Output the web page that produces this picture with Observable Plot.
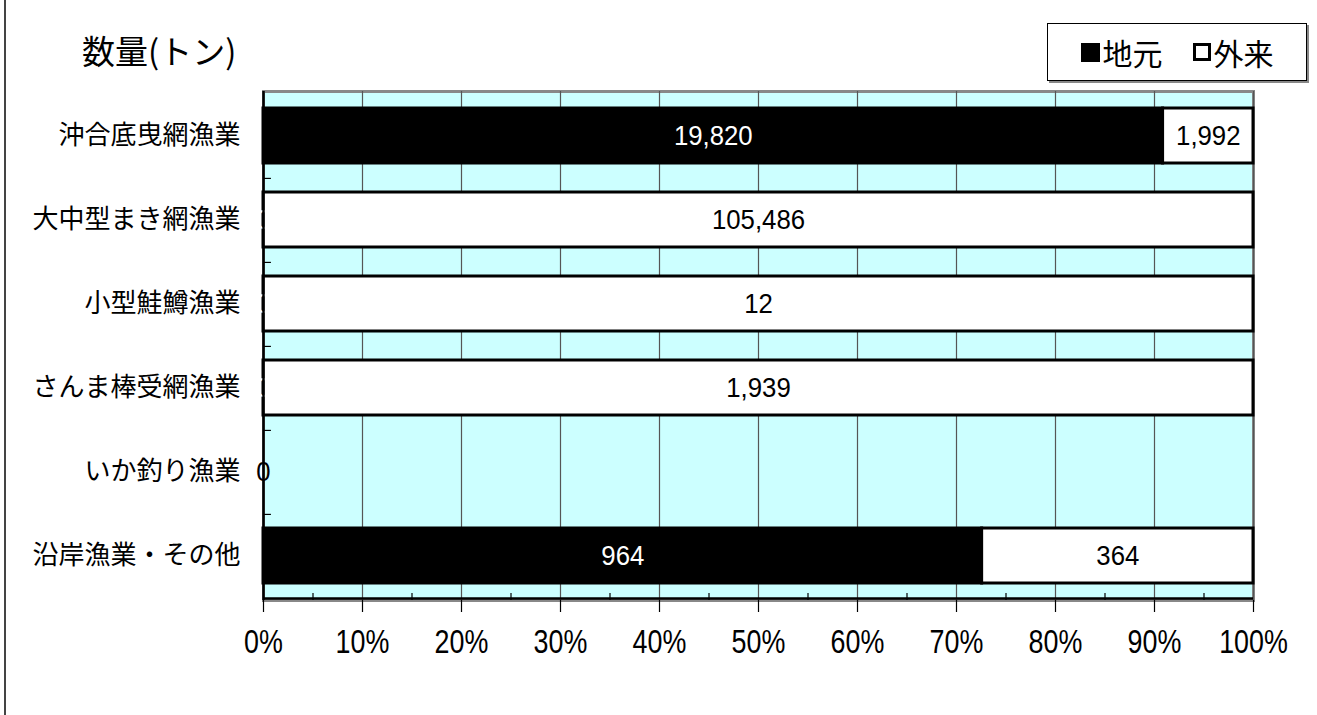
<!DOCTYPE html>
<html><head><meta charset="utf-8">
<script src="https://cdn.jsdelivr.net/npm/d3@7"></script>
<script src="https://cdn.jsdelivr.net/npm/@observablehq/plot@0.6"></script>
<style>
html,body{margin:0;padding:0;background:#fff;}
#wrap{position:relative;width:1317px;height:715px;overflow:hidden;font-family:"Noto Sans CJK JP",sans-serif;}
#leftline{position:absolute;left:4px;top:0;width:2px;height:715px;background:#444;}
#unit{position:absolute;left:82px;top:27px;font-size:33px;line-height:46px;color:#000;}
#legend{position:absolute;left:1047px;top:23px;width:258px;height:56px;border:1.5px solid #000;box-shadow:2px 2px 0 #888;background:#fff;display:flex;align-items:center;justify-content:center;font-size:30px;color:#000;}
.sw{display:inline-block;width:19px;height:19px;margin-right:3px;box-sizing:border-box;}
.sw.k{background:#000;}
.sw.w{background:#fff;border:3px solid #000;width:18px;height:18px;}
.item{display:flex;align-items:center;}
.gap{width:30px;}
#chart{position:absolute;left:0;top:0;}
</style></head>
<body><div id="wrap">
<div id="leftline"></div>
<div id="chart"></div>
<div id="unit">数量(トン)</div>
<div id="legend"></div>
</div>
<script>
const categories = ["沖合底曳網漁業","大中型まき網漁業","小型鮭鱒漁業","さんま棒受網漁業","いか釣り漁業","沿岸漁業・その他"];
const seriesNames = ["地元","外来"];
const localValues = [19820, 0, 0, 0, 0, 964];
const outsideValues = [1992, 105486, 12, 1939, 0, 364];
const xTicks = [0,0.1,0.2,0.3,0.4,0.5,0.6,0.7,0.8,0.9,1];
const xMinorTicks = [0.05,0.15,0.25,0.35,0.45,0.55,0.65,0.75,0.85,0.95];

const rows = [];
categories.forEach((c,i)=>{
  rows.push({cat:c, series:seriesNames[0], value:localValues[i]});
  rows.push({cat:c, series:seriesNames[1], value:outsideValues[i]});
});

const W = 1317, H = 715, mT = 91, mB = 115, mL = 263, mR = 64;
const step = (H - mT - mB) / categories.length;
const fmt = d3.format(",");

const stackOpts = {offset:"normalize", order: seriesNames, x:"value", y:"cat"};

const chart = Plot.plot({
  width: W, height: H,
  marginTop: mT, marginBottom: mB, marginLeft: mL, marginRight: mR,
  style: {fontFamily: "'Liberation Sans','Noto Sans CJK JP',sans-serif", background:"transparent", overflow:"visible", color:"#000"},
  x: {domain:[0,1]},
  y: {domain: categories, paddingInner: 0.34, paddingOuter: 0.17},
  color: {domain: seriesNames, range: ["#000","#fff"]},
  marks: [
    Plot.frame({fill:"#ccffff", stroke:"#888", strokeWidth:3}),
    Plot.gridX(xTicks, {stroke:"#555", strokeOpacity:1, strokeWidth:1.2}),
    Plot.ruleY(categories.slice(0,5), {y: d=>d, x1: 0, x2: 0.008, dy: step/2, stroke:"#000", strokeWidth:1.2}),
    Plot.barX(rows, Plot.stackX({...stackOpts, fill:"series", stroke:"#000", strokeWidth:3})),
    Plot.text(rows, Plot.stackX({...stackOpts, text: d=>fmt(d.value), fill: d=> d.series===seriesNames[0] ? "#fff" : "#000", fontSize:28, fontFamily:"'Liberation Sans',Arial,sans-serif", className:"barlabel"})),
    Plot.ruleX([0], {stroke:"#000", strokeWidth:2.5}),
    Plot.ruleY([categories[categories.length-1]], {y:d=>d, dy: step/2, stroke:"#000", strokeWidth:2.5}),
    Plot.axisX(xMinorTicks, {anchor:"bottom", tickSize:-7, tickFormat: ()=>"", stroke:"#000", strokeWidth:1.2, label:null}),
    Plot.axisX(xTicks, {anchor:"bottom", tickSize:12, tickPadding:16, tickFormat: d3.format(".0%"), fontSize:34, fontFamily:"'Liberation Sans',Arial,sans-serif", stroke:"#000", strokeWidth:1.2, label:null, className:"xticks"}),
    Plot.axisY({anchor:"left", tickSize:0, tickPadding:23, fontSize:26, fontFamily:"'Noto Sans CJK JP',sans-serif", label:null})
  ]
});
document.getElementById("chart").appendChild(chart);

// condense tall tick labels (narrow typeface look)
function condense(sel, ratio){
  d3.select(chart).selectAll(sel).each(function(){
    const L = this.getComputedTextLength();
    if (L > 0){ this.setAttribute("textLength", (L*ratio).toFixed(1)); this.setAttribute("lengthAdjust","spacingAndGlyphs"); }
  });
}
condense(".xticks text", 0.79);
condense(".barlabel text", 0.92);

const lg = document.getElementById("legend");
seriesNames.forEach((s,i)=>{
  if (i>0){const g=document.createElement("span");g.className="gap";lg.appendChild(g);}
  const it = document.createElement("span"); it.className="item";
  const sw = document.createElement("span"); sw.className = "sw " + (i===0?"k":"w");
  const tx = document.createElement("span"); tx.textContent = s;
  it.appendChild(sw); it.appendChild(tx); lg.appendChild(it);
});
</script>
</body></html>
